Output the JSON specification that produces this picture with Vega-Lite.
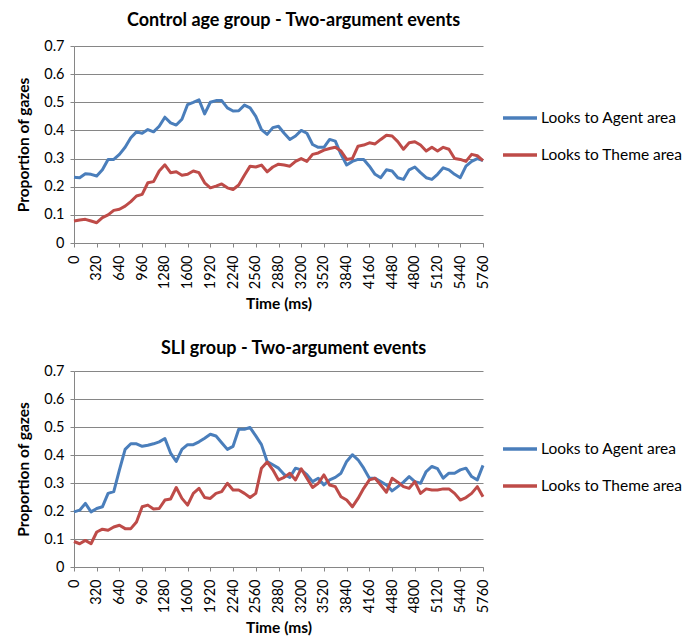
{
  "$schema": "https://vega.github.io/schema/vega-lite/v6.json",
  "padding": {"left": 16, "top": 12, "right": 0, "bottom": 0},
  "background": "white",
  "config": {
    "font": "Lato",
    "view": {"stroke": null},
    "axis": {
      "domainColor": "#868686",
      "gridColor": "#868686",
      "tickColor": "#868686",
      "labelColor": "#000000",
      "titleColor": "#000000",
      "labelFont": "Lato",
      "titleFont": "Lato",
      "labelFontSize": 14.5,
      "titleFontSize": 15.5,
      "titleFontWeight": "bold",
      "tickSize": 4
    },
    "legend": {"labelFont": "Lato", "labelColor": "#000000"},
    "title": {"font": "Lato", "color": "#000000"}
  },
  "datasets": {
    "control": [
      {"t": 0, "Looks to Agent area": 0.234, "Looks to Theme area": 0.078},
      {"t": 80, "Looks to Agent area": 0.232, "Looks to Theme area": 0.082},
      {"t": 160, "Looks to Agent area": 0.246, "Looks to Theme area": 0.084},
      {"t": 240, "Looks to Agent area": 0.244, "Looks to Theme area": 0.078},
      {"t": 320, "Looks to Agent area": 0.238, "Looks to Theme area": 0.072},
      {"t": 400, "Looks to Agent area": 0.26, "Looks to Theme area": 0.09},
      {"t": 480, "Looks to Agent area": 0.297, "Looks to Theme area": 0.1},
      {"t": 560, "Looks to Agent area": 0.297, "Looks to Theme area": 0.116},
      {"t": 640, "Looks to Agent area": 0.315, "Looks to Theme area": 0.12},
      {"t": 720, "Looks to Agent area": 0.34, "Looks to Theme area": 0.131},
      {"t": 800, "Looks to Agent area": 0.374, "Looks to Theme area": 0.147},
      {"t": 880, "Looks to Agent area": 0.395, "Looks to Theme area": 0.167},
      {"t": 960, "Looks to Agent area": 0.39, "Looks to Theme area": 0.173},
      {"t": 1040, "Looks to Agent area": 0.403, "Looks to Theme area": 0.214},
      {"t": 1120, "Looks to Agent area": 0.395, "Looks to Theme area": 0.218},
      {"t": 1200, "Looks to Agent area": 0.415, "Looks to Theme area": 0.256},
      {"t": 1280, "Looks to Agent area": 0.447, "Looks to Theme area": 0.278},
      {"t": 1360, "Looks to Agent area": 0.427, "Looks to Theme area": 0.25},
      {"t": 1440, "Looks to Agent area": 0.419, "Looks to Theme area": 0.253},
      {"t": 1520, "Looks to Agent area": 0.44, "Looks to Theme area": 0.241},
      {"t": 1600, "Looks to Agent area": 0.492, "Looks to Theme area": 0.244},
      {"t": 1680, "Looks to Agent area": 0.5, "Looks to Theme area": 0.256},
      {"t": 1760, "Looks to Agent area": 0.509, "Looks to Theme area": 0.25},
      {"t": 1840, "Looks to Agent area": 0.459, "Looks to Theme area": 0.214},
      {"t": 1920, "Looks to Agent area": 0.5, "Looks to Theme area": 0.196},
      {"t": 2000, "Looks to Agent area": 0.506, "Looks to Theme area": 0.202},
      {"t": 2080, "Looks to Agent area": 0.506, "Looks to Theme area": 0.21},
      {"t": 2160, "Looks to Agent area": 0.48, "Looks to Theme area": 0.196},
      {"t": 2240, "Looks to Agent area": 0.469, "Looks to Theme area": 0.19},
      {"t": 2320, "Looks to Agent area": 0.47, "Looks to Theme area": 0.206},
      {"t": 2400, "Looks to Agent area": 0.49, "Looks to Theme area": 0.241},
      {"t": 2480, "Looks to Agent area": 0.48, "Looks to Theme area": 0.273},
      {"t": 2560, "Looks to Agent area": 0.45, "Looks to Theme area": 0.27},
      {"t": 2640, "Looks to Agent area": 0.403, "Looks to Theme area": 0.277},
      {"t": 2720, "Looks to Agent area": 0.386, "Looks to Theme area": 0.253},
      {"t": 2800, "Looks to Agent area": 0.41, "Looks to Theme area": 0.27},
      {"t": 2880, "Looks to Agent area": 0.415, "Looks to Theme area": 0.28},
      {"t": 2960, "Looks to Agent area": 0.39, "Looks to Theme area": 0.277},
      {"t": 3040, "Looks to Agent area": 0.368, "Looks to Theme area": 0.273},
      {"t": 3120, "Looks to Agent area": 0.38, "Looks to Theme area": 0.29},
      {"t": 3200, "Looks to Agent area": 0.4, "Looks to Theme area": 0.3},
      {"t": 3280, "Looks to Agent area": 0.39, "Looks to Theme area": 0.29},
      {"t": 3360, "Looks to Agent area": 0.35, "Looks to Theme area": 0.315},
      {"t": 3440, "Looks to Agent area": 0.34, "Looks to Theme area": 0.32},
      {"t": 3520, "Looks to Agent area": 0.34, "Looks to Theme area": 0.33},
      {"t": 3600, "Looks to Agent area": 0.368, "Looks to Theme area": 0.336},
      {"t": 3680, "Looks to Agent area": 0.362, "Looks to Theme area": 0.34},
      {"t": 3760, "Looks to Agent area": 0.315, "Looks to Theme area": 0.327},
      {"t": 3840, "Looks to Agent area": 0.277, "Looks to Theme area": 0.297},
      {"t": 3920, "Looks to Agent area": 0.29, "Looks to Theme area": 0.3},
      {"t": 4000, "Looks to Agent area": 0.297, "Looks to Theme area": 0.344},
      {"t": 4080, "Looks to Agent area": 0.297, "Looks to Theme area": 0.348},
      {"t": 4160, "Looks to Agent area": 0.273, "Looks to Theme area": 0.356},
      {"t": 4240, "Looks to Agent area": 0.244, "Looks to Theme area": 0.352},
      {"t": 4320, "Looks to Agent area": 0.232, "Looks to Theme area": 0.368},
      {"t": 4400, "Looks to Agent area": 0.26, "Looks to Theme area": 0.383},
      {"t": 4480, "Looks to Agent area": 0.256, "Looks to Theme area": 0.38},
      {"t": 4560, "Looks to Agent area": 0.232, "Looks to Theme area": 0.36},
      {"t": 4640, "Looks to Agent area": 0.226, "Looks to Theme area": 0.333},
      {"t": 4720, "Looks to Agent area": 0.26, "Looks to Theme area": 0.356},
      {"t": 4800, "Looks to Agent area": 0.27, "Looks to Theme area": 0.36},
      {"t": 4880, "Looks to Agent area": 0.25, "Looks to Theme area": 0.348},
      {"t": 4960, "Looks to Agent area": 0.232, "Looks to Theme area": 0.327},
      {"t": 5040, "Looks to Agent area": 0.226, "Looks to Theme area": 0.34},
      {"t": 5120, "Looks to Agent area": 0.244, "Looks to Theme area": 0.327},
      {"t": 5200, "Looks to Agent area": 0.267, "Looks to Theme area": 0.34},
      {"t": 5280, "Looks to Agent area": 0.26, "Looks to Theme area": 0.333},
      {"t": 5360, "Looks to Agent area": 0.244, "Looks to Theme area": 0.3},
      {"t": 5440, "Looks to Agent area": 0.232, "Looks to Theme area": 0.297},
      {"t": 5520, "Looks to Agent area": 0.273, "Looks to Theme area": 0.29},
      {"t": 5600, "Looks to Agent area": 0.29, "Looks to Theme area": 0.315},
      {"t": 5680, "Looks to Agent area": 0.3, "Looks to Theme area": 0.31},
      {"t": 5760, "Looks to Agent area": 0.293, "Looks to Theme area": 0.293}
    ],
    "sli": [
      {"t": 0, "Looks to Agent area": 0.197, "Looks to Theme area": 0.091},
      {"t": 80, "Looks to Agent area": 0.203, "Looks to Theme area": 0.083},
      {"t": 160, "Looks to Agent area": 0.227, "Looks to Theme area": 0.095},
      {"t": 240, "Looks to Agent area": 0.197, "Looks to Theme area": 0.083},
      {"t": 320, "Looks to Agent area": 0.209, "Looks to Theme area": 0.125},
      {"t": 400, "Looks to Agent area": 0.215, "Looks to Theme area": 0.135},
      {"t": 480, "Looks to Agent area": 0.263, "Looks to Theme area": 0.131},
      {"t": 560, "Looks to Agent area": 0.269, "Looks to Theme area": 0.143},
      {"t": 640, "Looks to Agent area": 0.347, "Looks to Theme area": 0.149},
      {"t": 720, "Looks to Agent area": 0.42, "Looks to Theme area": 0.137},
      {"t": 800, "Looks to Agent area": 0.44, "Looks to Theme area": 0.137},
      {"t": 880, "Looks to Agent area": 0.44, "Looks to Theme area": 0.161},
      {"t": 960, "Looks to Agent area": 0.431, "Looks to Theme area": 0.215},
      {"t": 1040, "Looks to Agent area": 0.435, "Looks to Theme area": 0.221},
      {"t": 1120, "Looks to Agent area": 0.44, "Looks to Theme area": 0.207},
      {"t": 1200, "Looks to Agent area": 0.447, "Looks to Theme area": 0.209},
      {"t": 1280, "Looks to Agent area": 0.459, "Looks to Theme area": 0.239},
      {"t": 1360, "Looks to Agent area": 0.407, "Looks to Theme area": 0.243},
      {"t": 1440, "Looks to Agent area": 0.377, "Looks to Theme area": 0.284},
      {"t": 1520, "Looks to Agent area": 0.42, "Looks to Theme area": 0.245},
      {"t": 1600, "Looks to Agent area": 0.437, "Looks to Theme area": 0.221},
      {"t": 1680, "Looks to Agent area": 0.437, "Looks to Theme area": 0.263},
      {"t": 1760, "Looks to Agent area": 0.447, "Looks to Theme area": 0.281},
      {"t": 1840, "Looks to Agent area": 0.46, "Looks to Theme area": 0.248},
      {"t": 1920, "Looks to Agent area": 0.474, "Looks to Theme area": 0.245},
      {"t": 2000, "Looks to Agent area": 0.468, "Looks to Theme area": 0.263},
      {"t": 2080, "Looks to Agent area": 0.444, "Looks to Theme area": 0.269},
      {"t": 2160, "Looks to Agent area": 0.42, "Looks to Theme area": 0.299},
      {"t": 2240, "Looks to Agent area": 0.431, "Looks to Theme area": 0.275},
      {"t": 2320, "Looks to Agent area": 0.492, "Looks to Theme area": 0.275},
      {"t": 2400, "Looks to Agent area": 0.492, "Looks to Theme area": 0.263},
      {"t": 2480, "Looks to Agent area": 0.498, "Looks to Theme area": 0.248},
      {"t": 2560, "Looks to Agent area": 0.468, "Looks to Theme area": 0.263},
      {"t": 2640, "Looks to Agent area": 0.437, "Looks to Theme area": 0.353},
      {"t": 2720, "Looks to Agent area": 0.377, "Looks to Theme area": 0.375},
      {"t": 2800, "Looks to Agent area": 0.365, "Looks to Theme area": 0.347},
      {"t": 2880, "Looks to Agent area": 0.353, "Looks to Theme area": 0.311},
      {"t": 2960, "Looks to Agent area": 0.33, "Looks to Theme area": 0.32},
      {"t": 3040, "Looks to Agent area": 0.32, "Looks to Theme area": 0.335},
      {"t": 3120, "Looks to Agent area": 0.353, "Looks to Theme area": 0.311},
      {"t": 3200, "Looks to Agent area": 0.347, "Looks to Theme area": 0.351},
      {"t": 3280, "Looks to Agent area": 0.33, "Looks to Theme area": 0.317},
      {"t": 3360, "Looks to Agent area": 0.305, "Looks to Theme area": 0.284},
      {"t": 3440, "Looks to Agent area": 0.317, "Looks to Theme area": 0.299},
      {"t": 3520, "Looks to Agent area": 0.293, "Looks to Theme area": 0.329},
      {"t": 3600, "Looks to Agent area": 0.311, "Looks to Theme area": 0.293},
      {"t": 3680, "Looks to Agent area": 0.32, "Looks to Theme area": 0.287},
      {"t": 3760, "Looks to Agent area": 0.335, "Looks to Theme area": 0.251},
      {"t": 3840, "Looks to Agent area": 0.377, "Looks to Theme area": 0.239},
      {"t": 3920, "Looks to Agent area": 0.401, "Looks to Theme area": 0.215},
      {"t": 4000, "Looks to Agent area": 0.383, "Looks to Theme area": 0.245},
      {"t": 4080, "Looks to Agent area": 0.353, "Looks to Theme area": 0.281},
      {"t": 4160, "Looks to Agent area": 0.317, "Looks to Theme area": 0.311},
      {"t": 4240, "Looks to Agent area": 0.317, "Looks to Theme area": 0.317},
      {"t": 4320, "Looks to Agent area": 0.305, "Looks to Theme area": 0.293},
      {"t": 4400, "Looks to Agent area": 0.293, "Looks to Theme area": 0.267},
      {"t": 4480, "Looks to Agent area": 0.272, "Looks to Theme area": 0.317},
      {"t": 4560, "Looks to Agent area": 0.287, "Looks to Theme area": 0.303},
      {"t": 4640, "Looks to Agent area": 0.303, "Looks to Theme area": 0.287},
      {"t": 4720, "Looks to Agent area": 0.323, "Looks to Theme area": 0.281},
      {"t": 4800, "Looks to Agent area": 0.305, "Looks to Theme area": 0.305},
      {"t": 4880, "Looks to Agent area": 0.299, "Looks to Theme area": 0.263},
      {"t": 4960, "Looks to Agent area": 0.341, "Looks to Theme area": 0.279},
      {"t": 5040, "Looks to Agent area": 0.359, "Looks to Theme area": 0.275},
      {"t": 5120, "Looks to Agent area": 0.351, "Looks to Theme area": 0.275},
      {"t": 5200, "Looks to Agent area": 0.317, "Looks to Theme area": 0.279},
      {"t": 5280, "Looks to Agent area": 0.335, "Looks to Theme area": 0.279},
      {"t": 5360, "Looks to Agent area": 0.335, "Looks to Theme area": 0.263},
      {"t": 5440, "Looks to Agent area": 0.347, "Looks to Theme area": 0.239},
      {"t": 5520, "Looks to Agent area": 0.353, "Looks to Theme area": 0.248},
      {"t": 5600, "Looks to Agent area": 0.323, "Looks to Theme area": 0.263},
      {"t": 5680, "Looks to Agent area": 0.311, "Looks to Theme area": 0.287},
      {"t": 5760, "Looks to Agent area": 0.363, "Looks to Theme area": 0.251}
    ]
  },
  "spacing": 128,
  "bounds": "flush",
  "resolve": {"scale": {"color": "independent"}, "legend": {"color": "independent"}},
  "vconcat": [
    {
      "width": 409,
      "height": 197,
      "title": {"text": "Control age group - Two-argument events", "fontSize": 18, "fontWeight": "bold", "dx": 15, "offset": 8, "anchor": "middle"},
      "data": {"name": "control"},
      "transform": [{"fold": ["Looks to Agent area", "Looks to Theme area"], "as": ["series", "value"]}],
      "mark": {"type": "line", "strokeWidth": 3, "strokeJoin": "round"},
      "encoding": {
        "x": {"field": "t", "type": "quantitative", "scale": {"domain": [0, 5760], "nice": false},
          "axis": {"values": [0,320,640,960,1280,1600,1920,2240,2560,2880,3200,3520,3840,4160,4480,4800,5120,5440,5760], "format": "d", "labelAngle": -90, "labelFlush": false, "labelOverlap": false, "labelPadding": 8, "grid": false, "title": "Time (ms)", "titlePadding": 8}},
        "y": {"field": "value", "type": "quantitative", "scale": {"domain": [0, 0.7], "nice": false},
          "axis": {"values": [0,0.1,0.2,0.3,0.4,0.5,0.6,0.7], "labelExpr": "datum.value == 0 ? '0' : format(datum.value, '.1f')", "labelPadding": 6, "grid": true, "title": "Proportion of gazes", "titlePadding": 12}},
        "color": {"field": "series", "type": "nominal",
          "scale": {"domain": ["Looks to Agent area", "Looks to Theme area"], "range": ["#4A7EBB", "#BE4B48"]},
          "legend": {"orient": "none", "legendX": 427, "legendY": 53, "title": null, "symbolType": "stroke", "symbolSize": 1156, "symbolStrokeWidth": 3.5, "labelFontSize": 15.5, "labelOffset": 2, "rowPadding": 9}}
      }
    },
    {
      "width": 409,
      "height": 196,
      "title": {"text": "SLI group - Two-argument events", "fontSize": 18, "fontWeight": "bold", "dx": 15, "offset": 5, "anchor": "middle"},
      "data": {"name": "sli"},
      "transform": [{"fold": ["Looks to Agent area", "Looks to Theme area"], "as": ["series", "value"]}],
      "mark": {"type": "line", "strokeWidth": 3, "strokeJoin": "round"},
      "encoding": {
        "x": {"field": "t", "type": "quantitative", "scale": {"domain": [0, 5760], "nice": false},
          "axis": {"values": [0,320,640,960,1280,1600,1920,2240,2560,2880,3200,3520,3840,4160,4480,4800,5120,5440,5760], "format": "d", "labelAngle": -90, "labelFlush": false, "labelOverlap": false, "labelPadding": 8, "grid": false, "title": "Time  (ms)", "titlePadding": 8}},
        "y": {"field": "value", "type": "quantitative", "scale": {"domain": [0, 0.7], "nice": false},
          "axis": {"values": [0,0.1,0.2,0.3,0.4,0.5,0.6,0.7], "labelExpr": "datum.value == 0 ? '0' : format(datum.value, '.1f')", "labelPadding": 6, "grid": true, "title": "Proportion of gazes", "titlePadding": 12}},
        "color": {"field": "series", "type": "nominal",
          "scale": {"domain": ["Looks to Agent area", "Looks to Theme area"], "range": ["#4A7EBB", "#BE4B48"]},
          "legend": {"orient": "none", "legendX": 427, "legendY": 59, "title": null, "symbolType": "stroke", "symbolSize": 1156, "symbolStrokeWidth": 3.5, "labelFontSize": 15.5, "labelOffset": 2, "rowPadding": 9}}
      }
    }
  ]
}
